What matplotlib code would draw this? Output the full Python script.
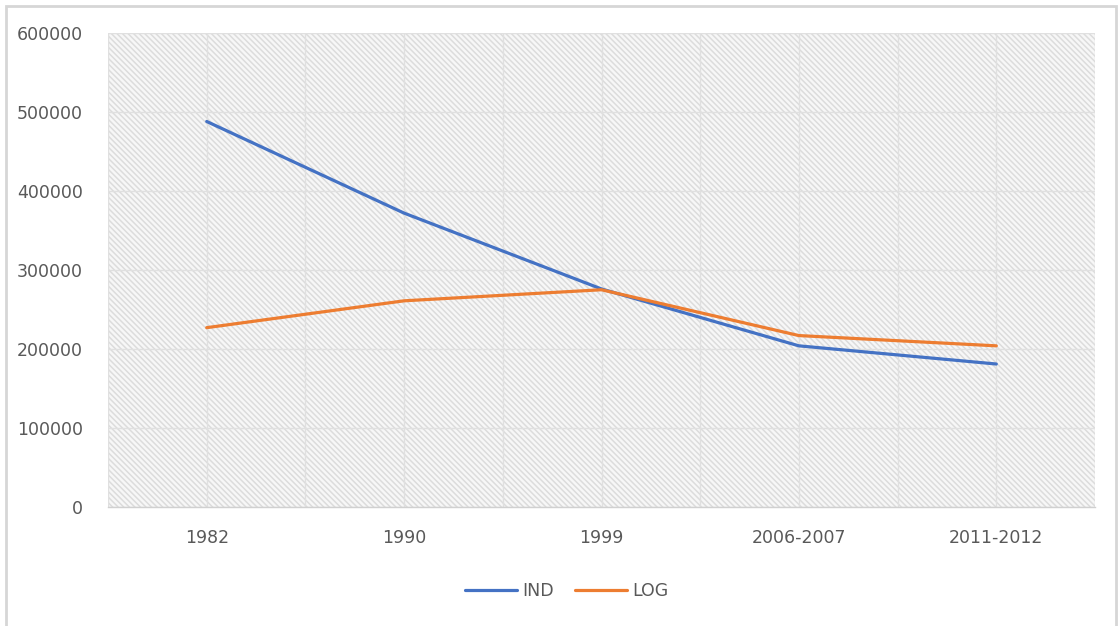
import matplotlib
matplotlib.use("Agg")
import matplotlib.pyplot as plt
from matplotlib.patches import Rectangle
from matplotlib.ticker import MultipleLocator

# Data
periods = ["1982", "1990", "1999", "2006-2007", "2011-2012"]
ind_values = [488000, 372000, 276000, 204000, 181000]
log_values = [227000, 261000, 275000, 217000, 204000]
y_ticks = [0, 100000, 200000, 300000, 400000, 500000, 600000]

BLUE = "#4472C4"
ORANGE = "#ED7D31"
TEXT = "#595959"
GRID = "#e0e0e0"

plt.rcParams["font.family"] = ["DejaVu Sans"]
plt.rcParams["hatch.linewidth"] = 1.1

W, H = 1119, 626
fig = plt.figure(figsize=(W / 100, H / 100), dpi=100)
fig.patch.set_facecolor("white")

# Thin frame around the chart
fig.add_artist(Rectangle((6 / W, -0.02), (1116 - 6) / W, 1.02 - 6 / H,
                         transform=fig.transFigure, fill=False,
                         edgecolor="#d6d6d6", linewidth=2.0))

ax = fig.add_axes([108 / W, (H - 507) / H, (1095 - 108) / W, (507 - 33) / H])

# Hatched plot-area background
ax.add_patch(Rectangle((0, 0), 1, 1, transform=ax.transAxes,
                       facecolor="#f7f7f7", edgecolor="#dcdcdc",
                       hatch="\\" * 6, linewidth=0, zorder=0))

x = list(range(len(periods)))
ax.plot(x, ind_values, color=BLUE, linewidth=2.3, label="IND", zorder=3,
        solid_capstyle="round")
ax.plot(x, log_values, color=ORANGE, linewidth=2.3, label="LOG", zorder=3,
        solid_capstyle="round")

ax.set_xlim(-0.5, len(periods) - 0.5)
ax.set_ylim(0, 600000)
ax.set_xticks(x)
ax.set_xticklabels(periods)
ax.xaxis.set_minor_locator(MultipleLocator(0.5))
ax.set_yticks(y_ticks)
ax.set_yticklabels([str(v) for v in y_ticks])

ax.grid(True, which="both", axis="x", color=GRID, linewidth=1.0, zorder=1)
ax.grid(True, which="major", axis="y", color=GRID, linewidth=1.0, zorder=1)
ax.set_axisbelow(True)

for side in ("top", "right", "left"):
    ax.spines[side].set_visible(False)
ax.spines["bottom"].set_color("#d0d0d0")
ax.spines["bottom"].set_linewidth(1.0)

ax.tick_params(axis="both", which="both", length=0, labelsize=12.5,
               labelcolor=TEXT)
ax.tick_params(axis="y", pad=18)
ax.tick_params(axis="x", pad=16)

leg = fig.legend(loc="center", bbox_to_anchor=(567 / W, (H - 591) / H),
                 ncol=2, frameon=False, fontsize=12.5, handlelength=3.0,
                 handletextpad=0.3, columnspacing=1.2)
for t in leg.get_texts():
    t.set_color(TEXT)

fig.savefig("out.png", dpi=100, facecolor="white")
